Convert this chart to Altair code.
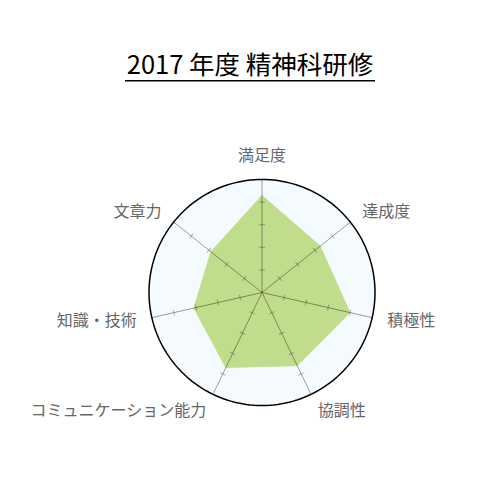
import altair as alt
import pandas as pd

categories = ["満足度", "達成度", "積極性", "協調性", "コミュニケーション能力", "知識・技術", "文章力"]
values = [4.3, 3.3, 4.0, 3.6, 3.7, 3.1, 2.9]
tick_values = [1, 2, 3, 4]
r_max = 5
title_text = "2017 年度 精神科研修"

n = len(categories)
df = pd.DataFrame({"cat": categories, "value": values, "i": list(range(n))})
poly = pd.concat([df, df.iloc[[0]].assign(i=n)], ignore_index=True)
ticks_df = pd.DataFrame([{"i": i, "t": t} for i in range(n) for t in tick_values])

FONT = "Noto Sans CJK JP"
xs = alt.Scale(domain=[-11.239, 10.177], nice=False, zero=False)
ys = alt.Scale(domain=[-8.827, 8.960], nice=False, zero=False)
TH = f"datum.i * 2 * PI / {n}"


def X(f):
    return alt.X(f, type="quantitative", scale=xs, axis=None)


def Y(f):
    return alt.Y(f, type="quantitative", scale=ys, axis=None)


circle = (
    alt.Chart(alt.sequence(0, 361, 2, as_="deg"))
    .transform_calculate(cx=f"{r_max}*sin(datum.deg*PI/180)", cy=f"{r_max}*cos(datum.deg*PI/180)")
    .mark_line(fill="#f5faff", stroke="#000000", strokeWidth=1.5)
    .encode(x=X("cx"), y=Y("cy"), order=alt.Order("deg:Q"))
)

polygon = (
    alt.Chart(poly)
    .transform_calculate(px=f"datum.value*sin({TH})", py=f"datum.value*cos({TH})")
    .mark_line(fill="#c0dd8c", stroke="#c0dd8c", strokeWidth=0.5, fillOpacity=1)
    .encode(x=X("px"), y=Y("py"), order=alt.Order("i:Q"))
)

spokes = (
    alt.Chart(df)
    .transform_calculate(z="0", tx=f"{r_max}*sin({TH})", ty=f"{r_max}*cos({TH})")
    .mark_rule(stroke="#000000", strokeOpacity=0.38, strokeWidth=1)
    .encode(x=X("z"), y=Y("z"), x2="tx:Q", y2="ty:Q")
)

tickmarks = (
    alt.Chart(ticks_df)
    .transform_calculate(kx=f"datum.t*sin({TH})", ky=f"datum.t*cos({TH})", adeg=f"datum.i*360/{n}")
    .mark_point(shape="M-1,0L1,0", size=36, stroke="#000000", strokeOpacity=0.38, strokeWidth=1, filled=False)
    .encode(x=X("kx"), y=Y("ky"), angle=alt.Angle("adeg:Q", scale=None))
)

LR = 5.68


def label_layer(filt, align, baseline, dy=0):
    return (
        alt.Chart(df)
        .transform_filter(filt)
        .transform_calculate(lx=f"{LR}*sin({TH})", ly=f"{LR}*cos({TH})")
        .mark_text(font=FONT, fontSize=16, color="#666666", align=align, baseline=baseline, dy=dy)
        .encode(x=X("lx"), y=Y("ly"), text="cat:N")
    )


labels = [
    label_layer("datum.i == 0", "center", "bottom"),
    label_layer(f"datum.i > 0 && datum.i < {n} / 2 - 0.6", "left", "middle"),
    label_layer(f"datum.i > {n} / 2 + 0.6", "right", "middle"),
    label_layer(f"datum.i > {n} / 2 - 0.6 && datum.i < {n} / 2", "left", "middle", 3),
    label_layer(f"datum.i > {n} / 2 && datum.i < {n} / 2 + 0.6", "right", "middle", 3),
]

underline = (
    alt.Chart(df.iloc[[0]])
    .mark_rule(stroke="#000000", strokeWidth=1.5)
    .encode(x=alt.value(117), x2=alt.value(367), y=alt.value(-9.3))
)

chart = (
    alt.layer(circle, polygon, spokes, tickmarks, *labels, underline)
    .properties(
        width=484,
        height=402,
        autosize="none",
        padding={"left": 0, "top": 82, "right": 0, "bottom": 0},
        title=alt.TitleParams(
            title_text, font=FONT, fontSize=25.5, fontWeight="normal", color="#000000",
            anchor="middle", baseline="alphabetic", offset=-19.3, frame="group",
        ),
    )
    .configure_view(stroke=None)
)

chart.save("out.html", embed_options={"renderer": "svg", "actions": False})
